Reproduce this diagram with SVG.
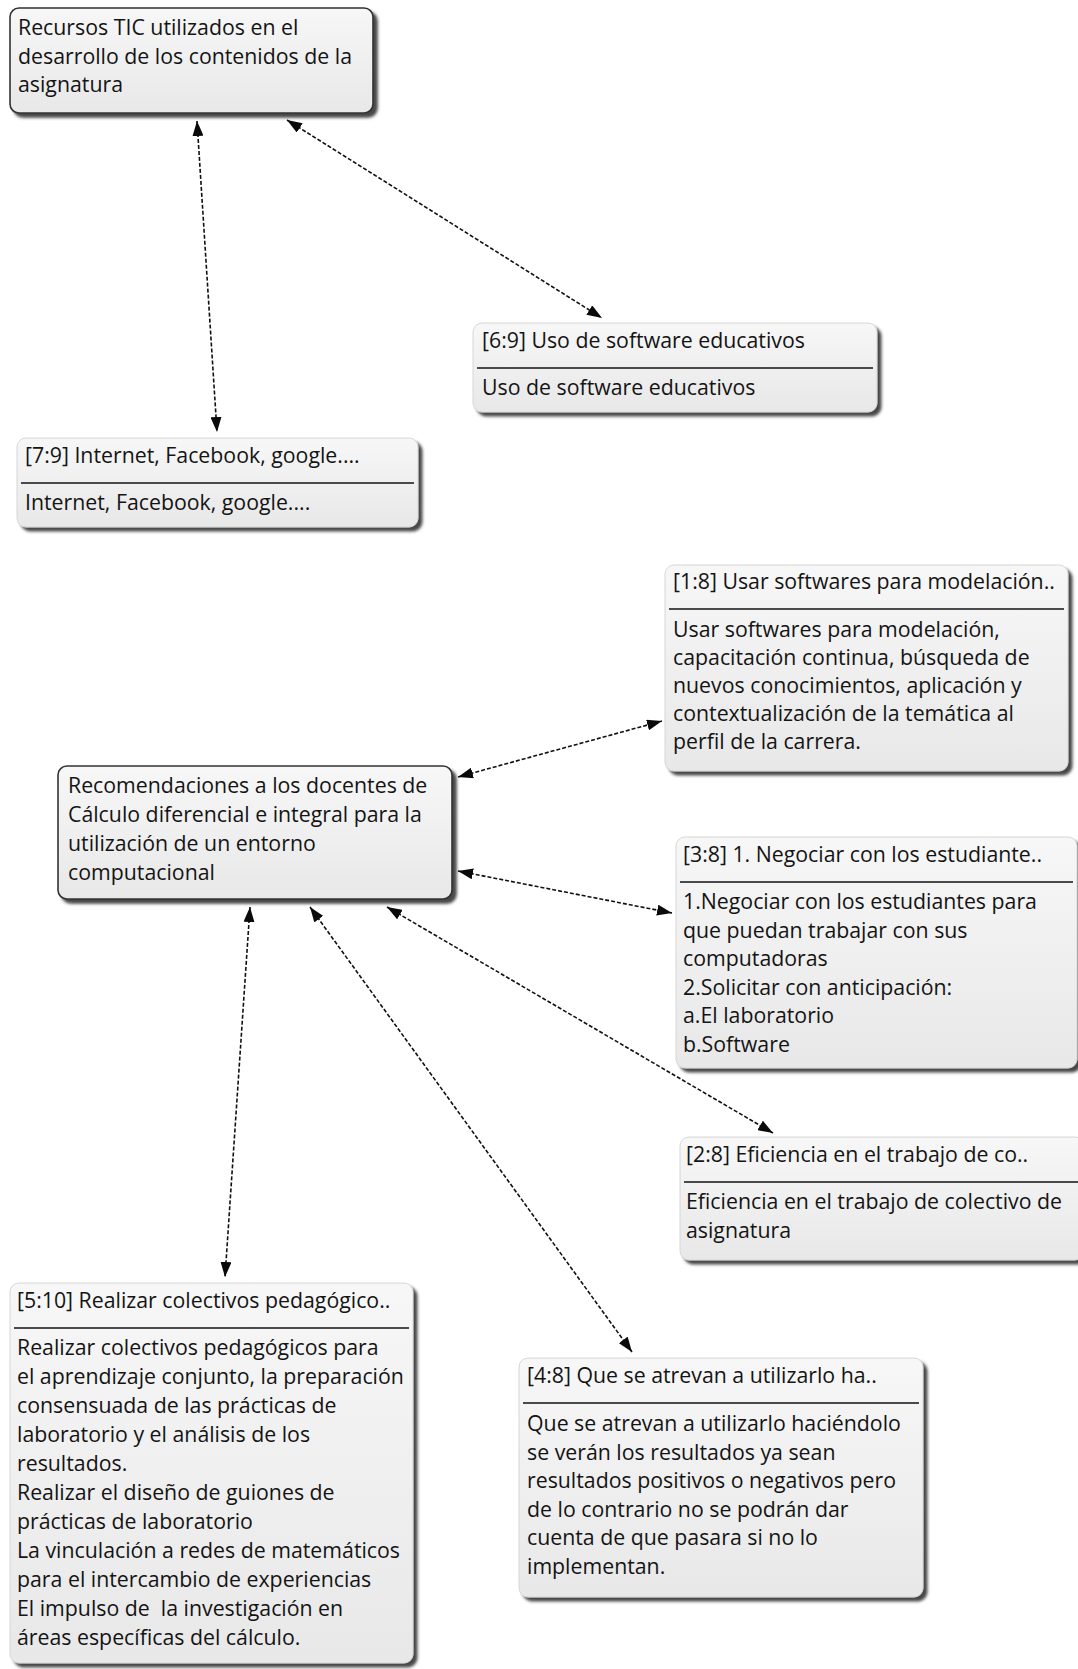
<svg xmlns="http://www.w3.org/2000/svg" width="1078" height="1669" viewBox="0 0 1078 1669">
  <defs>
    <style>
      .t { font-family: "Open Sans", "Noto Sans", "Liberation Sans", sans-serif; font-size: 21.3px; fill: #141414; }
      .code { fill: url(#boxFill); stroke: #333333; stroke-width: 1.6; filter: url(#shadow); }
      .quote { fill: url(#boxFill); stroke: #d6d6d6; stroke-width: 1; filter: url(#shadow); }
      .sep { stroke: #4a4a4a; stroke-width: 2; }
      .link { fill: none; stroke: #111111; stroke-width: 1.6; stroke-dasharray: 4 2; marker-start: url(#arrow); marker-end: url(#arrow); }
    </style>
    <linearGradient id="boxFill" x1="0" y1="0" x2="0" y2="1">
      <stop offset="0" stop-color="#f7f7f7"/>
      <stop offset="1" stop-color="#e8e8e8"/>
    </linearGradient>
    <filter id="shadow" x="-5%" y="-5%" width="115%" height="120%">
      <feGaussianBlur in="SourceAlpha" stdDeviation="1.6"/>
      <feOffset dx="4" dy="4" result="blur"/>
      <feFlood flood-color="#333333" flood-opacity="0.9"/>
      <feComposite in2="blur" operator="in"/>
      <feMerge>
        <feMergeNode/>
        <feMergeNode in="SourceGraphic"/>
      </feMerge>
    </filter>
    <marker id="arrow" viewBox="0 0 15 11" refX="15" refY="5.5" markerWidth="15" markerHeight="11" markerUnits="userSpaceOnUse" orient="auto-start-reverse">
      <path d="M0,0 L15,5.5 L0,11 z" fill="#0a0a0a"/>
    </marker>
  </defs>

  <rect width="1078" height="1669" fill="#ffffff"/>

  <!-- connectors -->
  <g id="connectors">
    <line class="link" x1="197" y1="121" x2="217" y2="432"/>
    <line class="link" x1="287" y1="120" x2="602" y2="318"/>
    <line class="link" x1="458" y1="777" x2="662" y2="721"/>
    <line class="link" x1="458" y1="871" x2="672" y2="913"/>
    <line class="link" x1="387" y1="907" x2="773" y2="1133"/>
    <line class="link" x1="310" y1="907" x2="632" y2="1352"/>
    <line class="link" x1="250" y1="907" x2="225" y2="1277"/>
  </g>

  <!-- code: Recursos TIC -->
  <g id="node-recursos">
    <rect class="code" x="10" y="8" width="363" height="105" rx="9"/>
    <text class="t">
      <tspan x="18" y="35">Recursos TIC utilizados en el</tspan>
      <tspan x="18" y="63.5">desarrollo de los contenidos de la</tspan>
      <tspan x="18" y="92">asignatura</tspan>
    </text>
  </g>

  <!-- quote 6:9 -->
  <g id="node-q6-9">
    <rect class="quote" x="473" y="323" width="404" height="89" rx="9"/>
    <text class="t" x="482" y="348">[6:9] Uso de software educativos</text>
    <line class="sep" x1="477" y1="368" x2="873" y2="368"/>
    <text class="t" x="482" y="395">Uso de software educativos</text>
  </g>

  <!-- quote 7:9 -->
  <g id="node-q7-9">
    <rect class="quote" x="17" y="438" width="401" height="89" rx="9"/>
    <text class="t" x="25" y="463">[7:9] Internet, Facebook, google....</text>
    <line class="sep" x1="21" y1="483" x2="414" y2="483"/>
    <text class="t" x="25" y="510">Internet, Facebook, google....</text>
  </g>

  <!-- quote 1:8 -->
  <g id="node-q1-8">
    <rect class="quote" x="665" y="565" width="403" height="206" rx="9"/>
    <text class="t" x="673" y="589">[1:8] Usar softwares para modelación..</text>
    <line class="sep" x1="669" y1="609" x2="1064" y2="609"/>
    <text class="t">
      <tspan x="673" y="637">Usar softwares para modelación,</tspan>
      <tspan x="673" y="665">capacitación continua, búsqueda de</tspan>
      <tspan x="673" y="693">nuevos conocimientos, aplicación y</tspan>
      <tspan x="673" y="721">contextualización de la temática al</tspan>
      <tspan x="673" y="749">perfil de la carrera.</tspan>
    </text>
  </g>

  <!-- code: Recomendaciones -->
  <g id="node-recomendaciones">
    <rect class="code" x="58" y="766" width="394" height="133" rx="9"/>
    <text class="t">
      <tspan x="68" y="793">Recomendaciones a los docentes de</tspan>
      <tspan x="68" y="822">Cálculo diferencial e integral para la</tspan>
      <tspan x="68" y="851">utilización de un entorno</tspan>
      <tspan x="68" y="880">computacional</tspan>
    </text>
  </g>

  <!-- quote 3:8 -->
  <g id="node-q3-8">
    <rect class="quote" x="676" y="837" width="401" height="231" rx="9"/>
    <text class="t" x="683" y="862">[3:8] 1. Negociar con los estudiante..</text>
    <line class="sep" x1="680" y1="882" x2="1073" y2="882"/>
    <text class="t">
      <tspan x="683" y="909">1.Negociar con los estudiantes para</tspan>
      <tspan x="683" y="937.5">que puedan trabajar con sus</tspan>
      <tspan x="683" y="966">computadoras</tspan>
      <tspan x="683" y="994.5">2.Solicitar con anticipación:</tspan>
      <tspan x="683" y="1023">a.El laboratorio</tspan>
      <tspan x="683" y="1051.5">b.Software</tspan>
    </text>
  </g>

  <!-- quote 2:8 -->
  <g id="node-q2-8">
    <rect class="quote" x="680" y="1137" width="404" height="123" rx="9"/>
    <text class="t" x="686" y="1162">[2:8] Eficiencia en el trabajo de co..</text>
    <line class="sep" x1="684" y1="1182" x2="1080" y2="1182"/>
    <text class="t">
      <tspan x="686" y="1209">Eficiencia en el trabajo de colectivo de</tspan>
      <tspan x="686" y="1238">asignatura</tspan>
    </text>
  </g>

  <!-- quote 5:10 -->
  <g id="node-q5-10">
    <rect class="quote" x="10" y="1283" width="403" height="380" rx="9"/>
    <text class="t" x="17" y="1308">[5:10] Realizar colectivos pedagógico..</text>
    <line class="sep" x1="14" y1="1328" x2="409" y2="1328"/>
    <text class="t" xml:space="preserve"><tspan x="17" y="1355">Realizar colectivos pedagógicos para</tspan><tspan x="17" y="1384">el aprendizaje conjunto, la preparación</tspan><tspan x="17" y="1413">consensuada de las prácticas de</tspan><tspan x="17" y="1442">laboratorio y el análisis de los</tspan><tspan x="17" y="1471">resultados.</tspan><tspan x="17" y="1500">Realizar el diseño de guiones de</tspan><tspan x="17" y="1529">prácticas de laboratorio</tspan><tspan x="17" y="1558">La vinculación a redes de matemáticos</tspan><tspan x="17" y="1587">para el intercambio de experiencias</tspan><tspan x="17" y="1616">El impulso de  la investigación en</tspan><tspan x="17" y="1645">áreas específicas del cálculo.</tspan></text>
  </g>

  <!-- quote 4:8 -->
  <g id="node-q4-8">
    <rect class="quote" x="519" y="1358" width="404" height="239" rx="9"/>
    <text class="t" x="527" y="1383">[4:8] Que se atrevan a utilizarlo ha..</text>
    <line class="sep" x1="523" y1="1403" x2="919" y2="1403"/>
    <text class="t">
      <tspan x="527" y="1431">Que se atrevan a utilizarlo haciéndolo</tspan>
      <tspan x="527" y="1459.5">se verán los resultados ya sean</tspan>
      <tspan x="527" y="1488">resultados positivos o negativos pero</tspan>
      <tspan x="527" y="1516.5">de lo contrario no se podrán dar</tspan>
      <tspan x="527" y="1545">cuenta de que pasara si no lo</tspan>
      <tspan x="527" y="1573.5">implementan.</tspan>
    </text>
  </g>
</svg>
